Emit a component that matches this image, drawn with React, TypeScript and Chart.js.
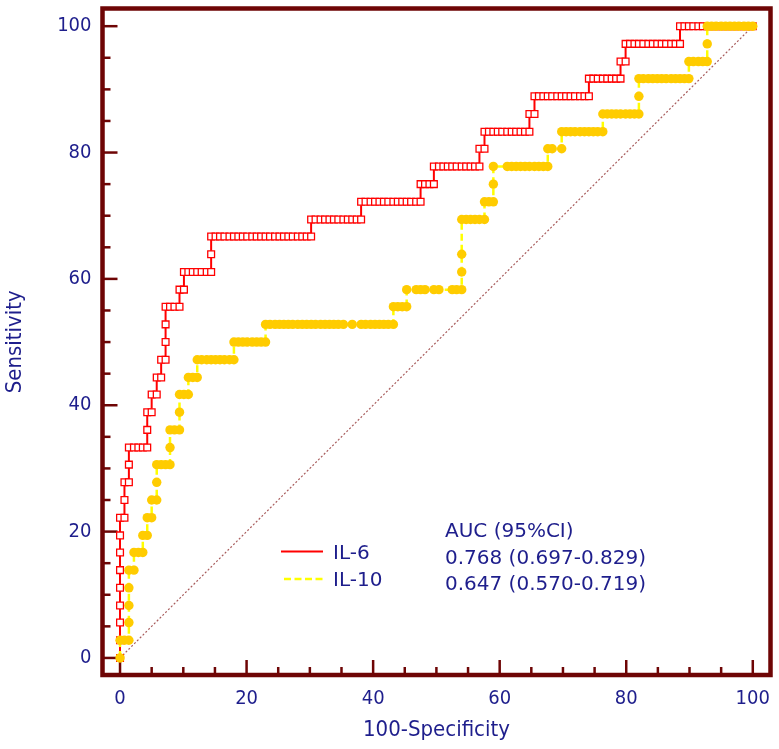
import React, { useEffect, useRef } from 'react';
import { Chart, registerables } from 'chart.js';

Chart.register(...registerables);

// ---------- data ----------
const xTickValues = [0, 20, 40, 60, 80, 100];
const yTickValues = [0, 20, 40, 60, 80, 100];
const minorTickValues = [0, 5, 10, 15, 20, 25, 30, 35, 40, 45, 50, 55, 60, 65, 70, 75, 80, 85, 90, 95, 100];

const diagonalX = [0, 100];
const diagonalY = [0, 100];

// [sensitivity, list of 100-specificity values at that sensitivity]
const il6Steps: [number, number[]][] = [
  [0, [0]],
  [2.8, [0]],
  [5.6, [0]],
  [8.3, [0]],
  [11.1, [0]],
  [13.9, [0]],
  [16.7, [0]],
  [19.4, [0]],
  [22.2, [0, 0.7]],
  [25.0, [0.7]],
  [27.8, [0.7, 1.4]],
  [30.6, [1.4]],
  [33.3, [1.4, 2.2, 2.9, 3.6, 4.3]],
  [36.1, [4.3]],
  [38.9, [4.3, 5.0]],
  [41.7, [5.0, 5.8]],
  [44.4, [5.8, 6.5]],
  [47.2, [6.5, 7.2]],
  [50.0, [7.2]],
  [52.8, [7.2]],
  [55.6, [7.2, 7.9, 8.6, 9.4]],
  [58.3, [9.4, 10.1]],
  [61.1, [10.1, 10.8, 11.5, 12.2, 12.9, 13.7, 14.4]],
  [63.9, [14.4]],
  [66.7, [14.4, 15.1, 15.8, 16.5, 17.3, 18.0, 18.7, 19.4, 20.1, 20.9, 21.6, 22.3, 23.0, 23.7, 24.5, 25.2, 25.9, 26.6, 27.3, 28.1, 28.8, 29.5, 30.2]],
  [69.4, [30.2, 30.9, 31.7, 32.4, 33.1, 33.8, 34.5, 35.3, 36.0, 36.7, 37.4, 38.1]],
  [72.2, [38.1, 38.8, 39.6, 40.3, 41.0, 41.7, 42.4, 43.2, 43.9, 44.6, 45.3, 46.0, 46.8, 47.5]],
  [75.0, [47.5, 48.2, 48.9, 49.6]],
  [77.8, [49.6, 50.4, 51.1, 51.8, 52.5, 53.2, 54.0, 54.7, 55.4, 56.1, 56.8]],
  [80.6, [56.8, 57.6]],
  [83.3, [57.6, 58.3, 59.0, 59.7, 60.4, 61.2, 61.9, 62.6, 63.3, 64.0, 64.7]],
  [86.1, [64.7, 65.5]],
  [88.9, [65.5, 66.2, 66.9, 67.6, 68.3, 69.1, 69.8, 70.5, 71.2, 71.9, 72.7, 73.4, 74.1]],
  [91.7, [74.1, 74.8, 75.5, 76.3, 77.0, 77.7, 78.4, 79.1]],
  [94.4, [79.1, 79.9]],
  [97.2, [79.9, 80.6, 81.3, 82.0, 82.7, 83.5, 84.2, 84.9, 85.6, 86.3, 87.1, 87.8, 88.5]],
  [100, [88.5, 89.2, 89.9, 90.6, 91.4, 92.1, 92.8, 93.5, 94.2, 95.0, 95.7, 96.4, 97.1, 97.8, 98.6, 99.3, 100]],
];

const il10Steps: [number, number[]][] = [
  [0, [0]],
  [2.8, [0, 0.7, 1.4]],
  [5.6, [1.4]],
  [8.3, [1.4]],
  [11.1, [1.4]],
  [13.9, [1.4, 2.2]],
  [16.7, [2.2, 2.9, 3.6]],
  [19.4, [3.6, 4.3]],
  [22.2, [4.3, 5.0]],
  [25.0, [5.0, 5.8]],
  [27.8, [5.8]],
  [30.6, [5.8, 6.5, 7.2, 7.9]],
  [33.3, [7.9]],
  [36.1, [7.9, 8.6, 9.4]],
  [38.9, [9.4]],
  [41.7, [9.4, 10.1, 10.8]],
  [44.4, [10.8, 11.5, 12.2]],
  [47.2, [12.2, 12.9, 13.7, 14.4, 15.1, 15.8, 16.5, 17.3, 18.0]],
  [50.0, [18.0, 18.7, 19.4, 20.1, 20.9, 21.6, 22.3, 23.0]],
  [52.8, [23.0, 23.7, 24.5, 25.2, 25.9, 26.6, 27.3, 28.1, 28.8, 29.5, 30.2, 30.9, 31.7, 32.4, 33.1, 33.8, 34.5, 35.3, 36.7, 38.1, 38.8, 39.6, 40.3, 41.0, 41.7, 42.4, 43.2]],
  [55.6, [43.2, 43.9, 44.6, 45.3]],
  [58.3, [45.3, 46.8, 47.5, 48.2, 49.6, 50.4, 52.5, 53.2, 54.0]],
  [61.1, [54.0]],
  [63.9, [54.0]],
  [69.4, [54.0, 54.7, 55.4, 56.1, 56.8, 57.6]],
  [72.2, [57.6, 58.3, 59.0]],
  [75.0, [59.0]],
  [77.8, [59.0, 61.2, 61.9, 62.6, 63.3, 64.0, 64.7, 65.5, 66.2, 66.9, 67.6]],
  [80.6, [67.6, 68.3, 69.8]],
  [83.3, [69.8, 70.5, 71.2, 71.9, 72.7, 73.4, 74.1, 74.8, 75.5, 76.3]],
  [86.1, [76.3, 77.0, 77.7, 78.4, 79.1, 79.9, 80.6, 81.3, 82.0]],
  [88.9, [82.0]],
  [91.7, [82.0, 82.7, 83.5, 84.2, 84.9, 85.6, 86.3, 87.1, 87.8, 88.5, 89.2, 89.9]],
  [94.4, [89.9, 90.6, 91.4, 92.1, 92.8]],
  [97.2, [92.8]],
  [100, [92.8, 93.5, 94.2, 95.0, 95.7, 96.4, 97.1, 97.8, 98.6, 99.3, 100]],
];

const seriesLabels = ['IL-6', 'IL-10'];
const aucHeader = 'AUC (95%CI)';
const aucLines = ['0.768 (0.697-0.829)', '0.647 (0.570-0.719)'];
const xTitle = '100-Specificity';
const yTitle = 'Sensitivity';

// ---------- style ----------
const FONT = "'DejaVu Sans Condensed', 'Liberation Sans', Arial, sans-serif";
const NOTE_FONT = "'DejaVu Sans', 'Liberation Sans', Arial, sans-serif";
const TEXT = '#1e1e8c';
const FRAME = '#6e0505';
const RED = '#ff0000';
const YELLOW_LINE = '#ffff00';
const YELLOW_DOT = '#ffcc00';
const DIAG = '#a85c5c';

function toPoints(steps: [number, number[]][]) {
  const pts: { x: number; y: number }[] = [];
  for (const [sens, xs] of steps) {
    for (const x of xs) pts.push({ x, y: sens });
  }
  return pts;
}

const framePlugin = {
  id: 'rocFrame',
  beforeDatasetsDraw(chart: any) {
    const { ctx, chartArea: a, scales } = chart;
    ctx.save();
    ctx.strokeStyle = FRAME;
    ctx.lineCap = 'butt';
    ctx.lineWidth = 2.5;
    for (const v of minorTickValues) {
      const len = xTickValues.includes(v) ? 15 : 8;
      const px = scales.x.getPixelForValue(v);
      ctx.beginPath();
      ctx.moveTo(px, a.bottom);
      ctx.lineTo(px, a.bottom - len);
      ctx.stroke();
      const ylen = yTickValues.includes(v) ? 15 : 8;
      const py = scales.y.getPixelForValue(v);
      ctx.beginPath();
      ctx.moveTo(a.left, py);
      ctx.lineTo(a.left + ylen, py);
      ctx.stroke();
    }
    ctx.lineWidth = 4.5;
    ctx.strokeRect(a.left, a.top, a.right - a.left, a.bottom - a.top);
    ctx.restore();
  },
  afterDatasetsDraw(chart: any) {
    const { ctx } = chart;
    ctx.save();
    // legend lines
    ctx.strokeStyle = RED;
    ctx.lineWidth = 2;
    ctx.beginPath();
    ctx.moveTo(281, 551.5);
    ctx.lineTo(323, 551.5);
    ctx.stroke();
    ctx.strokeStyle = YELLOW_LINE;
    ctx.lineWidth = 2.5;
    ctx.setLineDash([7, 3.5]);
    ctx.beginPath();
    ctx.moveTo(284, 579);
    ctx.lineTo(322.5, 579);
    ctx.stroke();
    ctx.setLineDash([]);
    // texts
    ctx.fillStyle = TEXT;
    ctx.font = `20px ${NOTE_FONT}`;
    ctx.textAlign = 'left';
    ctx.textBaseline = 'alphabetic';
    ctx.fillText(seriesLabels[0], 333, 558.5);
    ctx.fillText(seriesLabels[1], 333, 586);
    ctx.fillText(aucHeader, 445, 537);
    ctx.fillText(aucLines[0], 445, 563.5);
    ctx.fillText(aucLines[1], 445, 590);
    ctx.restore();
  },
};

export default function App() {
  const ref = useRef<HTMLCanvasElement>(null);

  useEffect(() => {
    const canvas = ref.current;
    if (!canvas) return;
    const chart = new Chart(canvas, {
      type: 'scatter',
      data: {
        datasets: [
          {
            label: seriesLabels[1],
            data: toPoints(il10Steps),
            showLine: true,
            borderColor: YELLOW_LINE,
            borderWidth: 2.5,
            borderDash: [7, 4],
            pointStyle: 'circle',
            pointRadius: 4.7,
            pointBackgroundColor: YELLOW_DOT,
            pointBorderColor: YELLOW_DOT,
            pointBorderWidth: 0,
            order: 0,
          } as any,
          {
            label: seriesLabels[0],
            data: toPoints(il6Steps),
            showLine: true,
            borderColor: RED,
            borderWidth: 2,
            pointStyle: 'rect',
            pointRadius: 4.8,
            pointBackgroundColor: '#ffffff',
            pointBorderColor: RED,
            pointBorderWidth: 1.3,
            order: 1,
          } as any,
          {
            label: 'reference',
            data: diagonalX.map((x, i) => ({ x, y: diagonalY[i] })),
            showLine: true,
            borderColor: DIAG,
            borderWidth: 1.2,
            borderDash: [2, 2],
            pointRadius: 0,
            order: 2,
          } as any,
        ],
      },
      options: {
        animation: false,
        responsive: false,
        events: [],
        layout: { padding: { top: 8.5, right: 8.5, left: 0, bottom: 0 } },
        plugins: {
          legend: { display: false },
          tooltip: { enabled: false },
        },
        scales: {
          x: {
            type: 'linear',
            min: -2.77,
            max: 102.8,
            bounds: 'data',
            grid: { display: false, drawTicks: false },
            border: { display: false },
            ticks: {
              color: TEXT,
              font: { family: FONT, size: 20 },
              padding: 12,
              autoSkip: false,
              maxRotation: 0,
            },
            title: {
              display: true,
              text: xTitle,
              color: TEXT,
              font: { family: FONT, size: 22 },
              padding: { top: 0, bottom: 6 },
            },
            afterBuildTicks: (s: any) => {
              s.ticks = xTickValues.map((v) => ({ value: v }));
            },
            afterFit: (s: any) => {
              s.height = 74;
              s.paddingLeft = 0;
              s.paddingRight = 0;
            },
          },
          y: {
            type: 'linear',
            min: -2.7,
            max: 102.8,
            bounds: 'data',
            grid: { display: false, drawTicks: false },
            border: { display: false },
            ticks: {
              color: TEXT,
              font: { family: FONT, size: 20 },
              padding: 11,
              autoSkip: false,
            },
            title: {
              display: true,
              text: yTitle,
              color: TEXT,
              font: { family: FONT, size: 22 },
              padding: { top: 2, bottom: 0 },
            },
            afterBuildTicks: (s: any) => {
              s.ticks = yTickValues.map((v) => ({ value: v }));
            },
            afterFit: (s: any) => {
              s.width = 102.5;
              s.paddingTop = 0;
              s.paddingBottom = 0;
            },
          },
        },
      } as any,
      plugins: [framePlugin],
    });
    return () => chart.destroy();
  }, []);

  return (
    <div style={{ position: 'absolute', left: 0, top: 0, width: 779, height: 749, background: '#ffffff' }}>
      <canvas ref={ref} width={779} height={749} style={{ display: 'block', width: 779, height: 749 }} />
    </div>
  );
}
